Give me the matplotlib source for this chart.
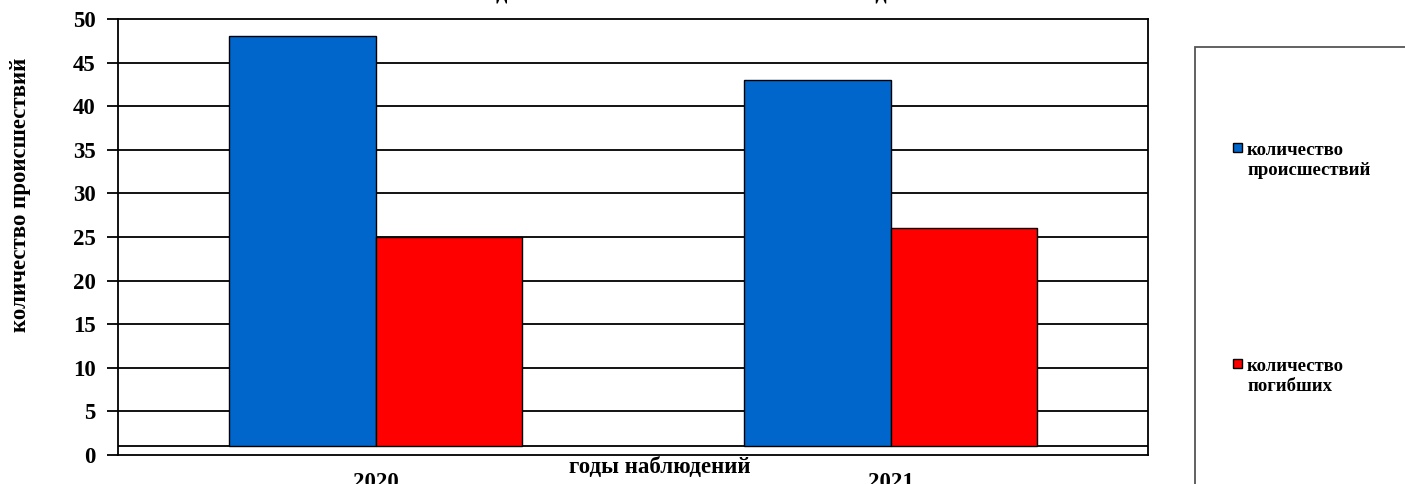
import matplotlib.pyplot as plt
import numpy as np
from matplotlib.patches import Rectangle

plt.rcParams["font.family"] = ["Liberation Serif", "DejaVu Serif"]
plt.rcParams["font.weight"] = "bold"

years = ["2020", "2021"]
incidents = [48, 43]
deaths = [25, 26]
series_labels = ["количество\nпроисшествий", "количество\nпогибших"]
title = "на водных объектах области в 2020-2021 годах"
floor = 1

fig = plt.figure(figsize=(14.05, 4.84), dpi=100)
ax = fig.add_axes([118 / 1405, 1 - 455 / 484, 1030 / 1405, 436 / 484])

x = np.arange(len(years))
w = 0.285
b1 = ax.bar(x - w / 2, np.array(incidents) - floor, w, bottom=floor,
            color="#0066CC", edgecolor="black", lw=1, zorder=3)
b2 = ax.bar(x + w / 2, np.array(deaths) - floor, w, bottom=floor,
            color="#FF0000", edgecolor="black", lw=1, zorder=3)

ax.set_xlim(-0.5, 1.5)
ax.set_ylim(0, 50)
ax.set_yticks(np.arange(0, 51, 5))
for v in np.arange(5, 50, 5):
    ax.axhline(v, color="black", lw=1.3, zorder=1)
ax.axhline(floor, color="black", lw=1.3, zorder=1)
for s in ax.spines.values():
    s.set_linewidth(1.3)
ax.tick_params(axis="y", length=8, width=1.3, pad=8, labelsize=16.5)
ax.set_xticks(x)
ax.set_xticklabels(years)
ax.tick_params(axis="x", length=0, pad=12, labelsize=16.5)

fig.text(21 / 1405, 1 - 195 / 484, "количество происшествий", rotation=90,
         ha="center", va="center", fontsize=16.5, fontweight="bold")
fig.text(660 / 1405, 1 - 473 / 484, "годы наблюдений", ha="center", va="baseline",
         fontsize=16.5)
fig.text(676 / 1405, 1 - 1.0 / 484, title, ha="center", va="baseline", fontsize=16)

# legend frame runs off the figure edge
fig.add_artist(Rectangle((1195 / 1405, -0.1), 0.2, 1.1 - 47 / 484,
                         transform=fig.transFigure, fill=False,
                         edgecolor="#555555", lw=1.3))
entry_tops = [143, 359]
for bars, label, top in zip([b1, b2], series_labels, entry_tops):
    fig.add_artist(Rectangle((1233 / 1405, 1 - (top + 9) / 484), 9 / 1405, 9 / 484,
                             transform=fig.transFigure,
                             facecolor=bars.patches[0].get_facecolor(),
                             edgecolor="black", lw=1))
    fig.text(1247 / 1405, 1 - (top + 32) / 484, label, ha="left", va="baseline",
             fontsize=13.5, linespacing=1.22)

fig.savefig("out.png", dpi=100)
